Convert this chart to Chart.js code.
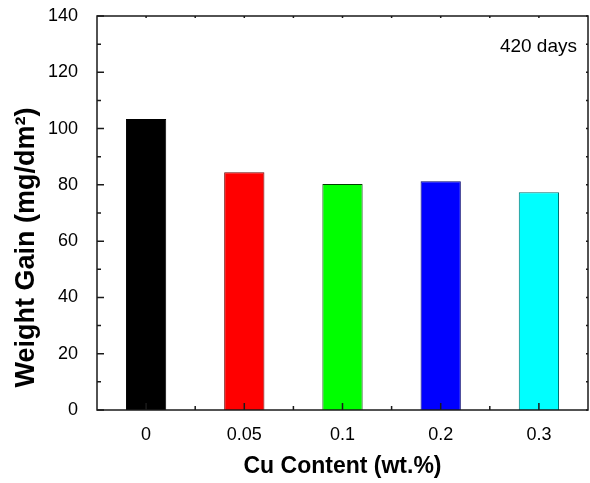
<!DOCTYPE html>
<html>
<head>
<meta charset="utf-8">
<script src="https://cdn.jsdelivr.net/npm/chart.js@4"></script>
<style>
  html, body { margin: 0; padding: 0; background: #fff; }
  #wrap { width: 590px; height: 483px; }
</style>
</head>
<body>
<div id="wrap"><canvas id="myChart"></canvas></div>
<script>
// data
const categories = ["0", "0.05", "0.1", "0.2", "0.3"];
const weightGain = [103.4, 84.5, 80.3, 81.3, 77.4];
const yMajorTicks = [0, 20, 40, 60, 80, 100, 120, 140];
const yMinorTicks = [10, 30, 50, 70, 90, 110, 130];

const fillColors = ["#000000", "#ff0000", "#00ff00", "#0000ff", "#00ffff"];
const edgeColors = ["#000000", "#700000", "#004000", "#000070", "#007070"];

const family = "'Liberation Sans', Arial, sans-serif";

// box frame with inward ticks, like the original plot
const frame = {
  id: "frame",
  afterDatasetsDraw(chart) {
    const { ctx, chartArea: a, scales: { x, y } } = chart;
    ctx.save();
    ctx.strokeStyle = "#1a1a1a";
    ctx.lineWidth = 1.5;
    ctx.strokeRect(a.left, a.top, a.right - a.left, a.bottom - a.top);

    ctx.beginPath();
    yMajorTicks.forEach((v) => {
      const py = y.getPixelForValue(v);
      ctx.moveTo(a.left, py); ctx.lineTo(a.left + 7, py);
      ctx.moveTo(a.right, py); ctx.lineTo(a.right - 2, py);
    });
    yMinorTicks.forEach((v) => {
      const py = y.getPixelForValue(v);
      ctx.moveTo(a.left, py); ctx.lineTo(a.left + 4, py);
      ctx.moveTo(a.right, py); ctx.lineTo(a.right - 2, py);
    });
    categories.forEach((c, i) => {
      const px = x.getPixelForTick(i);
      ctx.moveTo(px, a.bottom); ctx.lineTo(px, a.bottom - 7);
      ctx.moveTo(px, a.top); ctx.lineTo(px, a.top + 2);
      if (i < categories.length - 1) {
        const mid = (px + x.getPixelForTick(i + 1)) / 2;
        ctx.moveTo(mid, a.bottom); ctx.lineTo(mid, a.bottom - 4);
        ctx.moveTo(mid, a.top); ctx.lineTo(mid, a.top + 2);
      }
    });
    ctx.stroke();

    ctx.font = "19px " + family;
    ctx.fillStyle = "#000";
    ctx.textAlign = "right";
    ctx.textBaseline = "alphabetic";
    ctx.fillText("420 days", a.right - 11, a.top + 36);
    ctx.restore();
  },
};

const ctx = document.getElementById("myChart");

new Chart(ctx, {
  type: "bar",
  data: {
    labels: categories,
    datasets: [
      {
        data: weightGain,
        backgroundColor: fillColors,
        borderColor: edgeColors,
        borderWidth: 1,
        barPercentage: 0.41,
        categoryPercentage: 1,
      },
    ],
  },
  options: {
    responsive: true,
    maintainAspectRatio: false,
    animation: false,
    layout: {
      padding: { top: 16, right: 2, left: 0, bottom: 0 },
    },
    plugins: {
      legend: { display: false },
      tooltip: { enabled: false },
    },
    scales: {
      x: {
        grid: { display: false },
        border: { display: false },
        ticks: {
          color: "#000",
          padding: 6,
          maxRotation: 0,
          font: { size: 18, family: family },
        },
        title: {
          display: true,
          text: "Cu Content (wt.%)",
          color: "#000",
          padding: { top: 0, bottom: 3 },
          font: { size: 23, weight: "bold", family: family },
        },
        afterFit(scale) {
          scale.height = 73;
        },
      },
      y: {
        min: 0,
        max: 140,
        grid: { display: false },
        border: { display: false },
        ticks: {
          stepSize: 20,
          color: "#000",
          padding: 11,
          font: { size: 18, family: family },
        },
        title: {
          display: true,
          text: "   Weight Gain (mg/dm²)",
          align: "start",
          color: "#000",
          padding: { top: 10, bottom: 0 },
          font: { size: 27, weight: "bold", family: family },
        },
        afterFit(scale) {
          scale.width = 97;
          scale.paddingTop = 0;
          scale.paddingBottom = 0;
        },
      },
    },
  },
  plugins: [frame],
});
</script>
</body>
</html>
